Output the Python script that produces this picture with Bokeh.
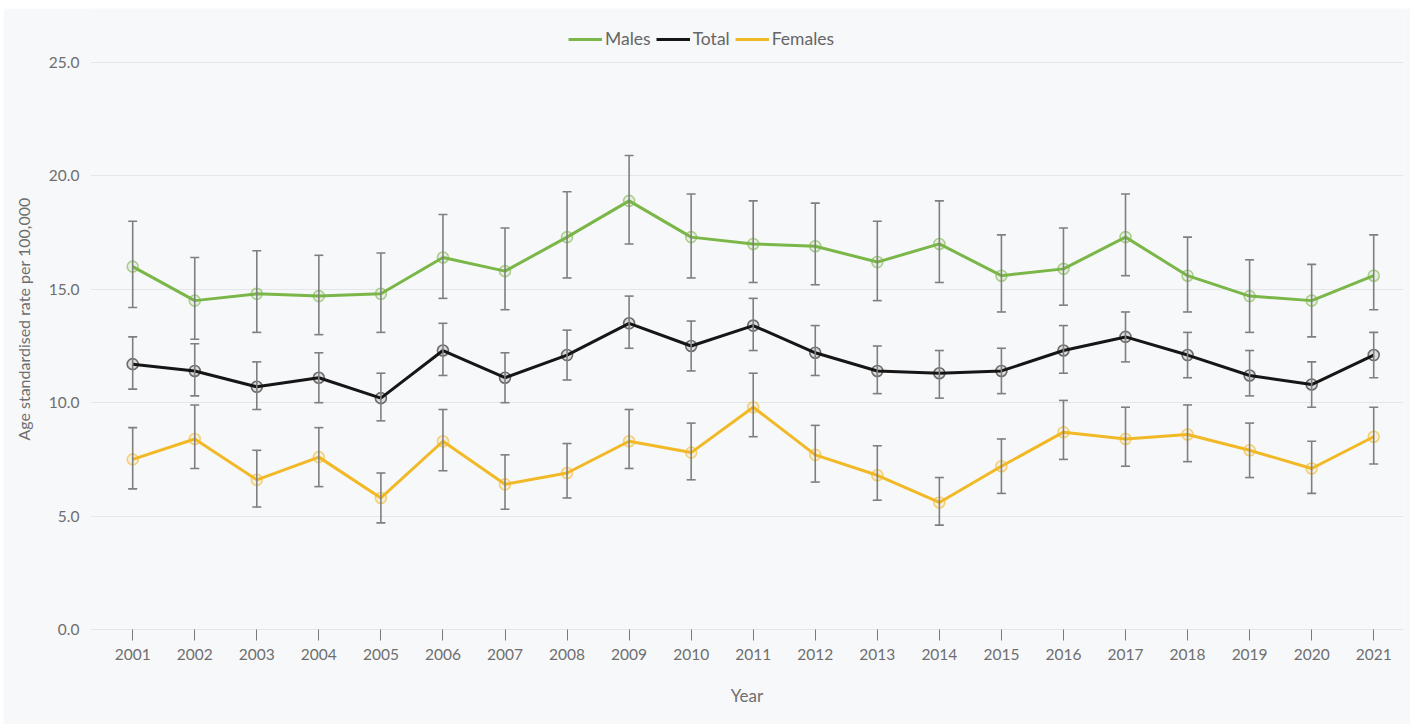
from bokeh.plotting import figure
from bokeh.models import (ColumnDataSource, Whisker, TeeHead, Legend, LegendItem,
                          FixedTicker, PrintfTickFormatter, Range1d)
from bokeh.embed import file_html
from bokeh.resources import INLINE

# Age standardised rate per 100,000 with 95% confidence limits
years = list(range(2001, 2022))

males = [16.0, 14.5, 14.8, 14.7, 14.8, 16.4, 15.8, 17.3, 18.9, 17.3, 17.0,
         16.9, 16.2, 17.0, 15.6, 15.9, 17.3, 15.6, 14.7, 14.5, 15.6]
males_lo = [14.2, 12.8, 13.1, 13.0, 13.1, 14.6, 14.1, 15.5, 17.0, 15.5, 15.3,
            15.2, 14.5, 15.3, 14.0, 14.3, 15.6, 14.0, 13.1, 12.9, 14.1]
males_hi = [18.0, 16.4, 16.7, 16.5, 16.6, 18.3, 17.7, 19.3, 20.9, 19.2, 18.9,
            18.8, 18.0, 18.9, 17.4, 17.7, 19.2, 17.3, 16.3, 16.1, 17.4]

total = [11.7, 11.4, 10.7, 11.1, 10.2, 12.3, 11.1, 12.1, 13.5, 12.5, 13.4,
         12.2, 11.4, 11.3, 11.4, 12.3, 12.9, 12.1, 11.2, 10.8, 12.1]
total_lo = [10.6, 10.3, 9.7, 10.0, 9.2, 11.2, 10.0, 11.0, 12.4, 11.4, 12.3,
            11.2, 10.4, 10.2, 10.4, 11.3, 11.8, 11.1, 10.3, 9.8, 11.1]
total_hi = [12.9, 12.6, 11.8, 12.2, 11.3, 13.5, 12.2, 13.2, 14.7, 13.6, 14.6,
            13.4, 12.5, 12.3, 12.4, 13.4, 14.0, 13.1, 12.3, 11.8, 13.1]

females = [7.5, 8.4, 6.6, 7.6, 5.8, 8.3, 6.4, 6.9, 8.3, 7.8, 9.8,
           7.7, 6.8, 5.6, 7.2, 8.7, 8.4, 8.6, 7.9, 7.1, 8.5]
females_lo = [6.2, 7.1, 5.4, 6.3, 4.7, 7.0, 5.3, 5.8, 7.1, 6.6, 8.5,
              6.5, 5.7, 4.6, 6.0, 7.5, 7.2, 7.4, 6.7, 6.0, 7.3]
females_hi = [8.9, 9.9, 7.9, 8.9, 6.9, 9.7, 7.7, 8.2, 9.7, 9.1, 11.3,
              9.0, 8.1, 6.7, 8.4, 10.1, 9.8, 9.9, 9.1, 8.3, 9.8]

y_ticks = [0, 5, 10, 15, 20, 25]

series = [
    ("Males", males, males_lo, males_hi, "#7ab648"),
    ("Total", total, total_lo, total_hi, "#161616"),
    ("Females", females, females_lo, females_hi, "#f2b926"),
]

BG = "#f7f8fa"
TEXT = "#6e6e6e"
FONT = "Lato"

# frame spans the whole panel height above the x axis; headroom above 25
# holds the legend
p = figure(width=1407, height=716, margin=(8, 3, 0, 3),
           x_range=Range1d(2000.32, 2021.48), y_range=Range1d(0, 27.38),
           output_backend="svg", toolbar_location=None,
           min_border_left=87, min_border_right=7,
           min_border_top=0, min_border_bottom=95)
p.background_fill_color = BG
p.border_fill_color = BG
p.outline_line_color = None

# grid
p.xgrid.grid_line_color = None
p.ygrid.grid_line_color = "#e4e6ea"
p.ygrid.grid_line_width = 1
p.ygrid.ticker = FixedTicker(ticks=y_ticks)

# y axis
p.yaxis.ticker = FixedTicker(ticks=y_ticks)
p.yaxis.formatter = PrintfTickFormatter(format="%.1f")
p.yaxis.axis_line_color = None
p.yaxis.major_tick_line_color = None
p.yaxis.minor_tick_line_color = None
p.yaxis.major_label_standoff = 5
p.yaxis.major_label_text_font = FONT
p.yaxis.major_label_text_font_size = "15.5px"
p.yaxis.major_label_text_color = TEXT
p.yaxis.axis_label = "Age standardised rate per 100,000"
p.yaxis.axis_label_text_font = FONT
p.yaxis.axis_label_text_font_size = "16px"
p.yaxis.axis_label_text_font_style = "normal"
p.yaxis.axis_label_text_color = TEXT
p.yaxis.axis_label_standoff = 13

# x axis
p.xaxis.ticker = FixedTicker(ticks=years)
p.xaxis.axis_line_color = "#e4e6ea"
p.xaxis.major_tick_line_color = "#7a7a7a"
p.xaxis.major_tick_out = 11
p.xaxis.major_tick_in = 0
p.xaxis.minor_tick_line_color = None
p.xaxis.major_label_standoff = 8
p.xaxis.major_label_text_font = FONT
p.xaxis.major_label_text_font_size = "15.5px"
p.xaxis.major_label_text_color = TEXT
p.xaxis.axis_label = "Year"
p.xaxis.axis_label_text_font = FONT
p.xaxis.axis_label_text_font_size = "17px"
p.xaxis.axis_label_text_font_style = "normal"
p.xaxis.axis_label_text_color = TEXT
p.xaxis.axis_label_standoff = 22

items = []
for name, vals, lo, hi, color in series:
    src = ColumnDataSource(dict(year=years, val=vals, lo=lo, hi=hi))
    line = p.line("year", "val", source=src, line_color=color, line_width=3)
    p.scatter("year", "val", source=src, marker="circle", size=11,
              fill_color=color, fill_alpha=0.12,
              line_color=color, line_alpha=0.6, line_width=1.6)
    whisk = Whisker(source=src, base="year", lower="lo", upper="hi",
                    line_color="#7f7f7f", line_width=1.6, level="annotation",
                    upper_head=TeeHead(size=9, line_color="#7f7f7f", line_width=1.6),
                    lower_head=TeeHead(size=9, line_color="#7f7f7f", line_width=1.6))
    p.add_layout(whisk)
    items.append(LegendItem(label=name, renderers=[line]))

# legend sits centred on the whole panel, just above the top gridline
legend = Legend(items=items, orientation="horizontal", location=(478, 580),
                glyph_width=34, glyph_height=20, label_standoff=3, spacing=5,
                padding=4, margin=0, background_fill_alpha=0,
                border_line_color=None,
                label_text_font=FONT, label_text_font_size="17.5px",
                label_text_color="#666666", label_height=20)
p.add_layout(legend)

open("out.html", "w").write(file_html(p, INLINE))
